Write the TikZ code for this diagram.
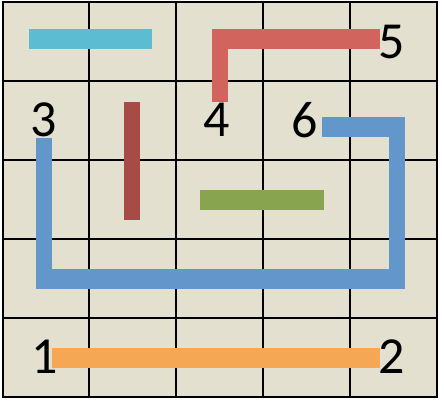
\documentclass[tikz,border=0pt]{standalone}
\usepackage{fontspec}
\setmainfont{Carlito}
\definecolor{board}{RGB}{227,224,207}
\definecolor{cyanbar}{RGB}{91,188,210}
\definecolor{salmonbar}{RGB}{209,101,94}
\definecolor{brownbar}{RGB}{166,75,69}
\definecolor{greenbar}{RGB}{137,164,78}
\definecolor{bluebar}{RGB}{99,151,204}
\definecolor{orangebar}{RGB}{245,167,84}

\begin{document}
\begin{tikzpicture}[x=1pt,y=-1pt]
\tikzset{hbar/.style={line width=20pt},
  vbar/.style={line width=16pt},
  gridline/.style={line width=2pt},
  chiffre/.style={inner sep=0pt, font=\fontsize{52}{52}\selectfont}}
\useasboundingbox (0,0) rectangle (444,403);
\fill[board] (3,2) rectangle (437,397);
\foreach \x in {3,89,176,263,350,437}
  \draw[gridline] (\x,2) -- (\x,397);
\foreach \y in {2,81,160,239,318,397}
  \draw[gridline] (3,\y) -- (437,\y);
\draw[gridline] (3,2) rectangle (437,397);
\coordinate (C1) at (29,39);
\coordinate (C2) at (152,39);
\coordinate (B1) at (132,102);
\coordinate (B2) at (132,220);
\coordinate (G1) at (200,200);
\coordinate (G2) at (324,200);
\coordinate (R1) at (220,102);
\coordinate (R2) at (220,29);
\coordinate (R3) at (212,39);
\coordinate (R4) at (380,39);
\coordinate (U1) at (44,138);
\coordinate (U2) at (44,289);
\coordinate (U3) at (36,279);
\coordinate (U4) at (405,279);
\coordinate (U5) at (397,289);
\coordinate (U6) at (397,117);
\coordinate (U7) at (405,127);
\coordinate (U8) at (322,127);
\coordinate (O1) at (52,358);
\coordinate (O2) at (380,358);
\draw[hbar, cyanbar] (C1) -- (C2);
\draw[vbar, brownbar] (B1) -- (B2);
\draw[hbar, greenbar] (G1) -- (G2);
\draw[vbar, salmonbar] (R1) -- (R2);
\draw[hbar, salmonbar] (R3) -- (R4);
\draw[vbar, bluebar] (U1) -- (U2);
\draw[hbar, bluebar] (U3) -- (U4);
\draw[vbar, bluebar] (U5) -- (U6);
\draw[hbar, bluebar] (U7) -- (U8);
\draw[hbar, orangebar] (O1) -- (O2);
\node[chiffre] (N1) at (45,357) {1};
\node[chiffre] (N2) at (392,357) {2};
\node[chiffre] (N3) at (44,120) {3};
\node[chiffre] (N4) at (217,120) {4};
\node[chiffre] (N5) at (392,42) {5};
\node[chiffre] (N6) at (305,120) {6};
\end{tikzpicture}
\end{document}
